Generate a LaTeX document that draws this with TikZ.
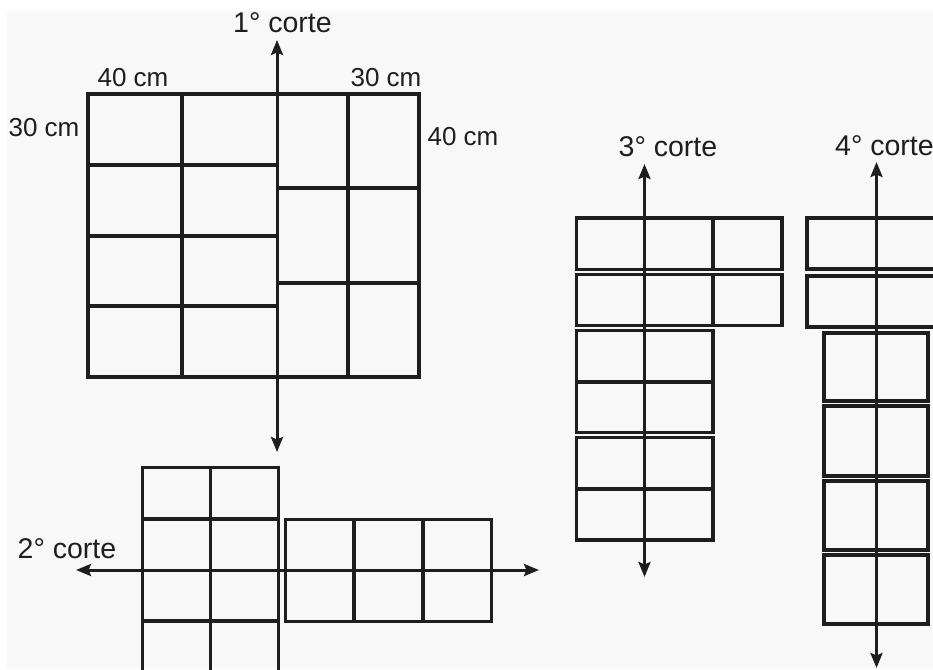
\documentclass[tikz,border=0pt]{standalone}
\usepackage{fontspec}
\setmainfont{Liberation Sans}
\usepackage{tikz}
\usetikzlibrary{arrows.meta,positioning}
\definecolor{ink}{HTML}{1E1E1E}
\definecolor{paper}{HTML}{F8F8F8}

\begin{document}
\begin{tikzpicture}[x=1pt, y=-1pt,
	cell/.style={draw=ink, line width=3.3pt},
	cut/.style={draw=ink, line width=3pt,
		{Stealth[length=15pt,width=12pt,inset=2.5pt]}-{Stealth[length=15pt,width=12pt,inset=2.5pt]}},
	lbl/.style={anchor=base, inner sep=0pt, text=ink, font=\fontsize{28.5}{32}\selectfont},
	dim/.style={anchor=base, inner sep=0pt, text=ink, font=\fontsize{26}{30}\selectfont}]
\clip (0,0) rectangle (933,669);
\fill[paper] (7,11) rectangle (933,669);
% first piece
\draw[cell] (88,94) rectangle (419,377);
\draw[cell] (182,94) -- (182,377) (348,94) -- (348,377);
\draw[cell] (88,165) -- (277,165) (88,236) -- (277,236) (88,306) -- (277,306);
\draw[cell] (277,188) -- (419,188) (277,283) -- (419,283);
\node[dim] (d1) at (133,86) {40 cm};
\node[dim] (d2) at (386,86) {30 cm};
\node[dim] (d3) at (44,136) {30 cm};
\node[dim] (d4) at (463,145) {40 cm};
\node[lbl] (t1) at (282.5,33) {1° corte};
\coordinate (a1) at (277,40);
\coordinate (b1) at (277,452);
\draw[cut] (a1) to (b1);
% second piece
\draw[cell] (142.7,467.7) rectangle (278.7,673);
\draw[cell] (210.7,467.7) -- (210.7,673);
\draw[cell] (142.7,519) -- (278.7,519) (142.7,621) -- (278.7,621);
\draw[cell] (285.7,519.3) rectangle (491.7,621.7);
\draw[cell] (354,519.3) -- (354,621.7) (423,519.3) -- (423,621.7);
\node[lbl] (t2) at (67,558) {2° corte};
\coordinate (a2) at (76,570);
\coordinate (b2) at (539,570);
\draw[cut] (a2) to (b2);
% third piece
\draw[cell] (576.5,218) rectangle (782,269.5);
\draw[cell] (576.5,274.5) rectangle (782,325.5);
\draw[cell] (713,218) -- (713,269.5) (713,274.5) -- (713,325.5);
\draw[cell] (576.5,330.5) rectangle (713,432.5);
\draw[cell] (576.5,382) -- (713,382);
\draw[cell] (576.5,437.5) rectangle (713,540);
\draw[cell] (576.5,489) -- (713,489);
\node[lbl] (t3) at (668,156) {3° corte};
\coordinate (a3) at (644.5,164);
\coordinate (b3) at (644.5,577);
\draw[cut] (a3) to (b3);
% fourth piece
\draw[cell] (807,218) rectangle (946,269);
\draw[cell] (807,276) rectangle (946,327);
\draw[cell] (824,333) rectangle (928,401);
\draw[cell] (824,406) rectangle (928,476);
\draw[cell] (824,481) rectangle (928,550);
\draw[cell] (824,555) rectangle (928,624);
\node[lbl, anchor=base west] (t4) at (835,155) {4° corte};
\coordinate (a4) at (876.5,162);
\coordinate (b4) at (876.5,668);
\draw[cut] (a4) to (b4);
\end{tikzpicture}
\end{document}
